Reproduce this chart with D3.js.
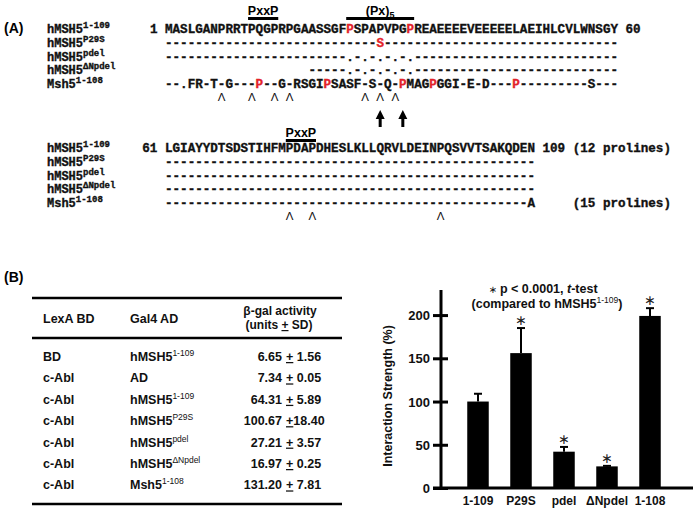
<!DOCTYPE html>
<html><head><meta charset="utf-8">
<script src="https://cdn.jsdelivr.net/npm/d3@7"></script>
<style>body{margin:0;background:#fff}svg{display:block}</style>
</head><body>
<svg id="c" width="699" height="512"></svg>
<script>
// ---------- Panel A data ----------
const seqNames = ["hMSH5", "hMSH5", "hMSH5", "hMSH5", "Msh5"];
const seqSups = ["1-109", "P29S", "pdel", "\u0394Npdel", "1-108"];
const block1 = [
  "MASLGANPRRTPQGPRPGAASSGFPSPAPVPGPREAEEEEVEEEEELAEIHLCVLWNSGY",
  "----------" + "----------" + "--------" + "S" + "----------" + "----------" + "----------" + "-",
  "----------" + "----------" + "----" + ".-.-.-.-." + "----------" + "----------" + "-------",
  "          " + "         " + "-----" + ".-.-.-.-." + "----------" + "----------" + "-------",
  "--.FR-T-G---P--G-RSGIPSASF-S-Q-PMAGPGGI-E-D---P---------S---"
];
const block2 = [
  "LGIAYYDTSDSTIHFMPDAPDHESLKLLQRVLDEINPQSVVTSAKQDEN",
  "----------" + "----------" + "----------" + "----------" + "---------",
  "----------" + "----------" + "----------" + "----------" + "---------",
  "----------" + "----------" + "----------" + "----------" + "---------",
  "----------" + "----------" + "----------" + "----------" + "--------A"
];
const red1 = [[24, 32], [28], [], [], [12, 21, 31, 35, 46]];
const red2 = [[], [], [], [], []];
const startNums = ["1", "61"];
const endNums = ["60", "109"];
const prolineNotes = ["(12 prolines)", "(15 prolines)"];
const carets1 = [7, 11, 14, 16, 26, 28, 30];
const carets2 = [16, 19, 36];
const arrows1 = [28, 31];
const motifs1 = [{label: "PxxP", sub: "", from: 11, to: 14}, {label: "(Px)", sub: "5", from: 24, to: 32}];
const motifs2 = [{label: "PxxP", sub: "", from: 16, to: 19}];

// ---------- Panel B table data ----------
const lexA = ["BD", "c-Abl", "c-Abl", "c-Abl", "c-Abl", "c-Abl", "c-Abl"];
const gal4Names = ["hMSH5", "AD", "hMSH5", "hMSH5", "hMSH5", "hMSH5", "Msh5"];
const gal4Sups = ["1-109", "", "1-109", "P29S", "pdel", "\u0394Npdel", "1-108"];
const activity = [6.65, 7.34, 64.31, 100.67, 27.21, 16.97, 131.20];
const activitySD = [1.56, 0.05, 5.89, 18.40, 3.57, 0.25, 7.81];

// ---------- Panel B chart data ----------
const categories = ["1-109", "P29S", "pdel", "\u0394Npdel", "1-108"];
const strength = [100, 156, 42, 25, 199];
const strengthErr = [9, 29, 5.5, 0.6, 9];
const significant = [false, true, true, true, true];
const yTicks = [0, 50, 100, 150, 200];

const svg = d3.select("#c");
svg.append("rect").attr("width", 699).attr("height", 512).attr("fill", "#fff");
const RED = "#e3222a";
const SANS = "Liberation Sans, Arial, Helvetica, sans-serif";
const MONO = "Liberation Mono, Courier New, monospace";

// ====== Panel A ======
svg.append("text").attr("x", 4).attr("y", 33).attr("font-family", SANS)
  .attr("font-weight", "bold").attr("font-size", 14).text("(A)");

const xs = d3.scaleLinear().domain([0, 60]).range([165, 618]);

function monoStyle(sel, size) {
  return sel.attr("font-family", MONO).attr("font-weight", "bold").attr("font-size", size)
    .attr("stroke-width", 0.35);
}

function drawBlock(rows, reds, y0, step, motifs, motifY, carets, caretY, startNum) {
  const g = svg.append("g");
  rows.forEach((row, r) => {
    const y = y0 + r * step;
    const lt = monoStyle(g.append("text").attr("x", 47).attr("y", y), 12)
      .attr("fill", "#111").attr("stroke", "#111");
    lt.append("tspan").text(seqNames[r]);
    lt.append("tspan").attr("font-size", 9).attr("dy", -5).text(seqSups[r]);
    const chars = row.split("").map((c, i) => ({c, i})).filter(d => d.c !== " ");
    monoStyle(g.selectAll(null).data(chars).join("text"), 12.6)
      .attr("x", d => xs(d.i + 0.5)).attr("y", y)
      .attr("text-anchor", "middle")
      .attr("fill", d => reds[r].includes(d.i) ? RED : "#111")
      .attr("stroke", d => reds[r].includes(d.i) ? RED : "#111")
      .text(d => d.c);
  });
  monoStyle(g.append("text").attr("x", xs(-1)).attr("y", y0).attr("text-anchor", "end"), 12.6)
    .attr("fill", "#111").attr("stroke", "#111").text(startNum);
  motifs.forEach(m => {
    g.append("rect").attr("x", xs(m.from)).attr("width", xs(m.to + 1) - xs(m.from))
      .attr("y", motifY + 2).attr("height", 3).attr("fill", "#000");
    const t = g.append("text").attr("x", (xs(m.from) + xs(m.to + 1)) / 2).attr("y", motifY)
      .attr("text-anchor", "middle").attr("font-family", SANS).attr("font-weight", "bold")
      .attr("font-size", 12.5);
    t.append("tspan").text(m.label);
    if (m.sub) t.append("tspan").attr("font-size", 9).attr("dy", 3).text(m.sub);
  });
  g.selectAll(null).data(carets).join("text")
    .attr("x", d => xs(d + 0.5)).attr("y", caretY).attr("text-anchor", "middle")
    .attr("font-family", SANS).attr("font-size", 11.5).attr("fill", "#111").text("\u039B");
  return g;
}

drawBlock(block1, red1, 33, 13.75, motifs1, 15, carets1, 101, startNums[0]);
drawBlock(block2, red2, 152, 13.75, motifs2, 137, carets2, 220, startNums[1]);

function endText(xv, yv, txt) {
  monoStyle(svg.append("text").attr("x", xv).attr("y", yv), 12.6)
    .attr("fill", "#111").attr("stroke", "#111").text(txt);
}
endText(xs(61), 33, endNums[0]);
endText(xs(50), 152, endNums[1]);
endText(xs(54), 152, prolineNotes[0]);
endText(xs(54), 207, prolineNotes[1]);

arrows1.forEach(i => {
  const cx = xs(i + 0.5);
  svg.append("path").attr("d", `M${cx},110 L${cx - 4.5},119 L${cx + 4.5},119 Z`).attr("fill", "#000");
  svg.append("rect").attr("x", cx - 1.5).attr("y", 117).attr("width", 3).attr("height", 10).attr("fill", "#000");
});

// ====== Panel B ======
svg.append("text").attr("x", 4).attr("y", 282).attr("font-family", SANS)
  .attr("font-weight", "bold").attr("font-size", 14).text("(B)");

const tb = svg.append("g").attr("font-family", SANS).attr("font-weight", "bold").attr("font-size", 12.5).attr("fill", "#111");
[298, 338, 504].forEach(y => tb.append("rect").attr("x", 32).attr("width", 310).attr("y", y - 1.25).attr("height", 2.5).attr("fill", "#000"));
tb.append("text").attr("x", 43).attr("y", 323).text("LexA BD");
tb.append("text").attr("x", 130).attr("y", 323).text("Gal4 AD");
tb.append("text").attr("x", 280).attr("y", 315).attr("text-anchor", "middle").attr("font-size", 12).text("\u03B2-gal activity");
const h2 = tb.append("text").attr("x", 279).attr("y", 329).attr("text-anchor", "middle").attr("font-size", 12);
h2.append("tspan").text("(units ");
h2.append("tspan").attr("text-decoration", "underline").text("+");
h2.append("tspan").text(" SD)");

const rowY = d3.scaleLinear().domain([0, 1]).range([361, 382.4]);
lexA.forEach((d, i) => {
  const y = rowY(i);
  tb.append("text").attr("x", 43).attr("y", y).text(d);
  const g4 = tb.append("text").attr("x", 130).attr("y", y);
  g4.append("tspan").text(gal4Names[i]);
  if (gal4Sups[i]) g4.append("tspan").attr("font-size", 8.5).attr("font-weight", "normal").attr("dy", -5).text(gal4Sups[i]);
  tb.append("text").attr("x", 282).attr("y", y).attr("text-anchor", "end").text(activity[i].toFixed(2));
  const sdTxt = activitySD[i].toFixed(2);
  const pm = tb.append("text").attr("x", 286).attr("y", y);
  pm.append("tspan").attr("text-decoration", "underline").text("+");
  pm.append("tspan").text((sdTxt.length > 4 ? "" : " ") + sdTxt);
});

// chart
const y = d3.scaleLinear().domain([0, 229]).range([488, 290]);
const x = d3.scaleBand().domain(categories).range([456.5, 671.5]).paddingInner(0.5).paddingOuter(0.25);
const axisX0 = 441;
const ch = svg.append("g");

const yAxis = d3.axisLeft(y).tickValues(yTicks).tickSizeInner(8).tickSizeOuter(0).tickPadding(3);
const ya = ch.append("g").attr("transform", `translate(${axisX0},0)`).call(yAxis);
ya.select(".domain").remove();
ya.selectAll(".tick line").attr("x1", -8).attr("x2", 7).attr("stroke", "#000").attr("stroke-width", 3);
ya.selectAll(".tick text").attr("font-family", SANS).attr("font-weight", "bold").attr("font-size", 13).attr("fill", "#111").attr("dy", "0.35em");
ch.append("line").attr("x1", axisX0).attr("x2", axisX0).attr("y1", y(0)).attr("y2", y(229)).attr("stroke", "#000").attr("stroke-width", 3);

ch.selectAll(".bar").data(categories).join("rect").attr("class", "bar")
  .attr("x", d => x(d)).attr("width", x.bandwidth())
  .attr("y", (d, i) => y(strength[i])).attr("height", (d, i) => y(0) - y(strength[i]))
  .attr("fill", "#000");
categories.forEach((c, i) => {
  const cx = x(c) + x.bandwidth() / 2;
  const top = y(strength[i] + strengthErr[i]);
  ch.append("line").attr("x1", cx).attr("x2", cx).attr("y1", y(strength[i])).attr("y2", top).attr("stroke", "#000").attr("stroke-width", 2);
  ch.append("line").attr("x1", cx - 4).attr("x2", cx + 4).attr("y1", top).attr("y2", top).attr("stroke", "#000").attr("stroke-width", 2);
  if (significant[i]) {
    ch.append("text").attr("x", cx).attr("y", top - 3).attr("text-anchor", "middle")
      .attr("font-family", "DejaVu Sans, sans-serif").attr("font-size", 14).attr("fill", "#222").text("\u2217");
  }
});
ch.append("line").attr("x1", 433).attr("x2", 693).attr("y1", y(0)).attr("y2", y(0)).attr("stroke", "#000").attr("stroke-width", 3);
ch.selectAll(".xl").data(categories).join("text").attr("class", "xl")
  .attr("x", d => x(d) + x.bandwidth() / 2).attr("y", 505).attr("text-anchor", "middle")
  .attr("font-family", SANS).attr("font-weight", "bold").attr("font-size", 12).attr("fill", "#111").text(d => d);

ch.append("text").attr("transform", "translate(392,396) rotate(-90)").attr("text-anchor", "middle")
  .attr("font-family", SANS).attr("font-weight", "bold").attr("font-size", 12.5).attr("fill", "#111")
  .text("Interaction Strength (%)");

const s1 = ch.append("text").attr("x", 543).attr("y", 293).attr("text-anchor", "middle")
  .attr("font-family", SANS).attr("font-weight", "bold").attr("font-size", 12.5).attr("fill", "#111");
s1.append("tspan").attr("font-family", "DejaVu Sans, sans-serif").attr("font-weight", "normal").attr("font-size", 10).text("\u2217 ");
s1.append("tspan").text("p < 0.0001, ");
s1.append("tspan").attr("font-style", "italic").text("t");
s1.append("tspan").text("-test");
const s2 = ch.append("text").attr("x", 547).attr("y", 308).attr("text-anchor", "middle")
  .attr("font-family", SANS).attr("font-weight", "bold").attr("font-size", 12.5).attr("fill", "#111");
s2.append("tspan").text("(compared to hMSH5");
s2.append("tspan").attr("font-size", 8.5).attr("font-weight", "normal").attr("dy", -5).text("1-109");
s2.append("tspan").attr("dy", 5).text(")");
</script>
</body></html>
